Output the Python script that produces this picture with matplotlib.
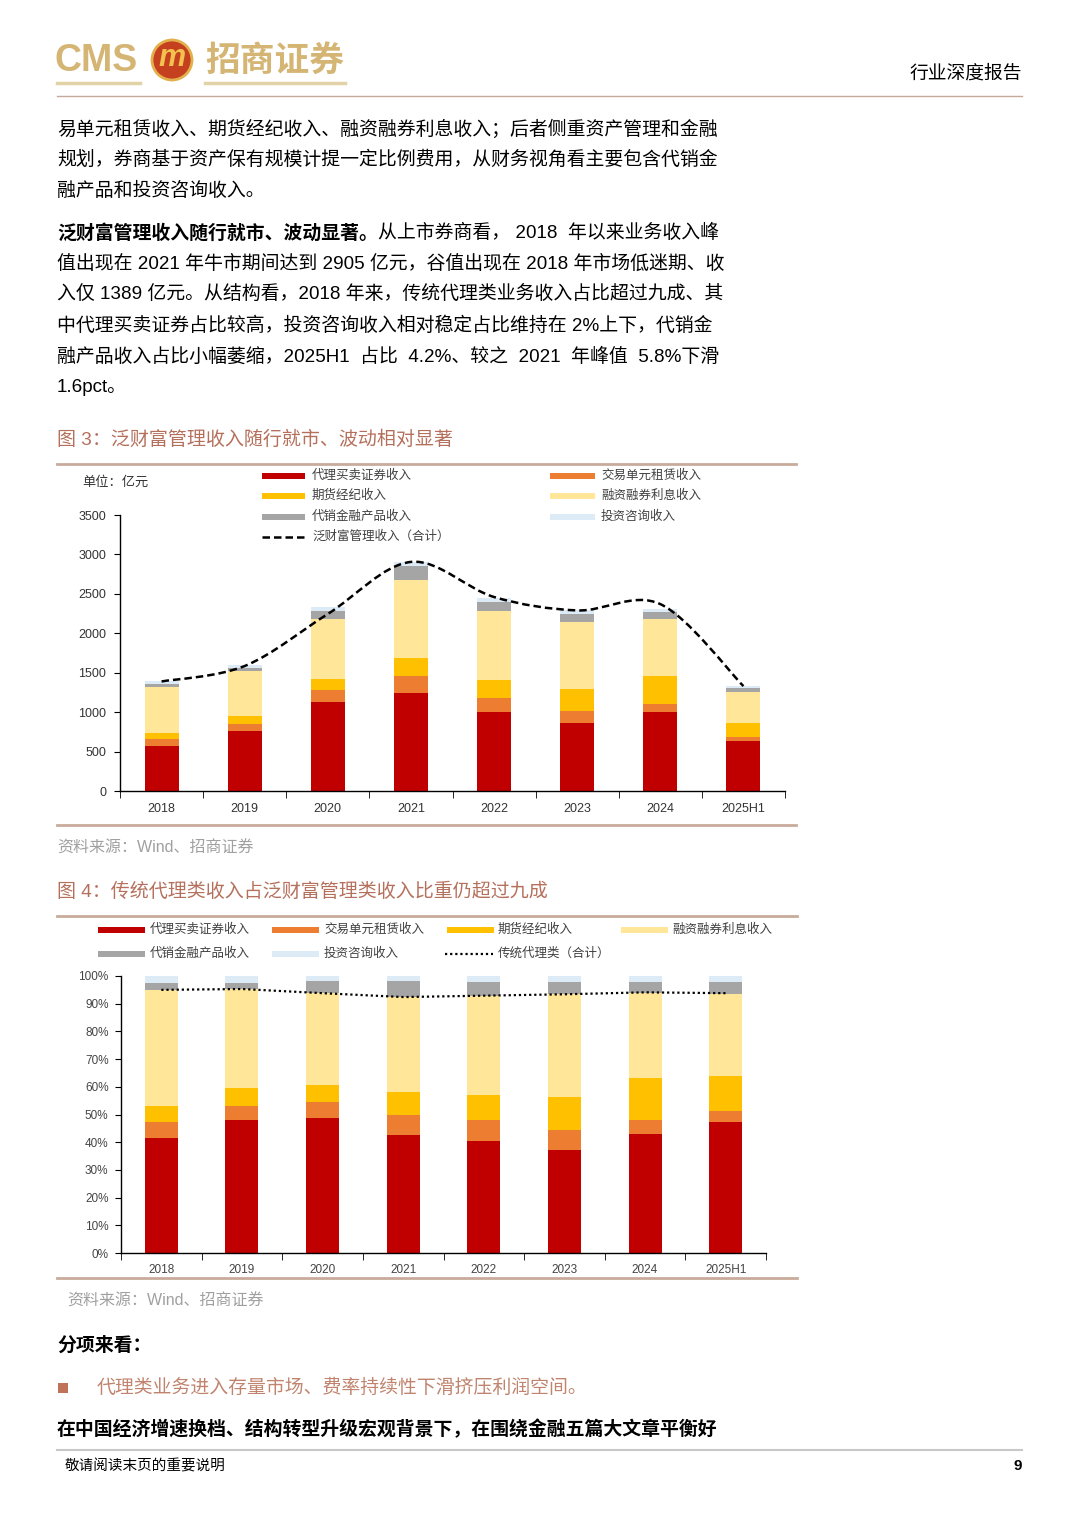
import numpy as np
import matplotlib
matplotlib.use('Agg')
import matplotlib.pyplot as plt
from matplotlib.path import Path
from matplotlib.patches import PathPatch, Rectangle, Circle
from matplotlib.ticker import FixedLocator

plt.rcParams['font.family'] = ['Liberation Sans', 'Noto Sans CJK SC', 'DejaVu Sans']

years = ['2018', '2019', '2020', '2021', '2022', '2023', '2024', '2025H1']

# 图3 泛财富管理收入 (亿元)
brokerage = [576, 767, 1131, 1237, 996, 860, 996, 631]
seat_rent = [80, 85, 144, 215, 186, 160, 112, 55]
futures = [80, 100, 150, 235, 228, 272, 348, 170]
margin = [583, 575, 762, 995, 870, 848, 722, 398]
product_sales = [37, 35, 100, 168, 120, 110, 90, 56]
advisory = [33, 35, 40, 55, 50, 45, 42, 25]
wealth_total = [1389, 1585, 2245, 2905, 2460, 2290, 2370, 1330]

# 图4 结构占比 (%)
brokerage_pct = [41.5, 48.0, 48.6, 42.6, 40.6, 37.3, 43.1, 47.3]
seat_rent_pct = [5.8, 5.2, 6.0, 7.3, 7.3, 7.1, 4.8, 4.0]
futures_pct = [5.6, 6.3, 6.1, 8.1, 9.2, 11.9, 15.1, 12.7]
margin_pct = [42.1, 35.8, 33.3, 34.4, 35.8, 37.1, 31.0, 29.6]
product_sales_pct = [2.5, 2.2, 4.2, 5.8, 4.9, 4.4, 3.8, 4.2]
advisory_pct = [2.5, 2.5, 1.8, 1.8, 2.2, 2.2, 2.2, 2.2]
agency_share = [95.0, 95.3, 93.8, 92.4, 92.9, 93.4, 94.1, 93.8]

names = ['代理买卖证券收入', '交易单元租赁收入', '期货经纪收入', '融资融券利息收入', '代销金融产品收入', '投资咨询收入']
colors = ['#C00000', '#ED7D31', '#FFC000', '#FFE699', '#A5A5A5', '#DDEBF7']

W, H = 1080, 1527
fig = plt.figure(figsize=(W / 100, H / 100), dpi=100)
bg = fig.add_axes([0, 0, 1, 1], zorder=0)
bg.set_xlim(0, W)
bg.set_ylim(H, 0)
bg.axis('off')

brown = '#B5705C'
tan_line = '#C9AB9B'
body = 13.6
leg_size = 9


def txt(x, y, s, size=body, color='black', weight='normal', ha='left', **kw):
    return bg.text(x, y, s, fontsize=size, color=color, fontweight=weight, ha=ha, va='center', **kw)


# ---- header
txt(55, 61, 'CMS', size=27, color='#D4B574', weight='bold')
bg.add_patch(Circle((172, 60), 20, facecolor='#C4401F', edgecolor='#E3B04B', lw=2))
txt(172, 58, 'm', size=22, color='#F2C14E', weight='bold', ha='center', style='italic')
txt(205, 61, '招商证券', size=25, color='#D4B574', weight='bold')
bg.plot([57, 140], [83, 83], color='#E2D2A8', lw=2.5)
bg.plot([205, 345], [83, 83], color='#E2D2A8', lw=2.5)
txt(1022, 74, '行业深度报告', size=13.5, ha='right')
bg.plot([57, 1022], [96, 96], color='#C4A89A', lw=1)

# ---- paragraphs
para1 = ['易单元租赁收入、期货经纪收入、融资融券利息收入；后者侧重资产管理和金融',
         '规划，券商基于资产保有规模计提一定比例费用，从财务视角看主要包含代销金',
         '融产品和投资咨询收入。']
for i, line in enumerate(para1):
    txt(57, 129 + 31 * i, line)

r = fig.canvas.get_renderer()
b = txt(57, 233, '泛财富管理收入随行就市、波动显著。', weight='bold')
bw = b.get_window_extent(renderer=r).width
txt(57 + bw, 233, '从上市券商看， 2018  年以来业务收入峰')
para2 = ['值出现在 2021 年牛市期间达到 2905 亿元，谷值出现在 2018 年市场低迷期、收',
         '入仅 1389 亿元。从结构看，2018 年来，传统代理类业务收入占比超过九成、其',
         '中代理买卖证券占比较高，投资咨询收入相对稳定占比维持在 2%上下，代销金',
         '融产品收入占比小幅萎缩，2025H1  占比  4.2%、较之  2021  年峰值  5.8%下滑',
         '1.6pct。']
for i, line in enumerate(para2):
    txt(57, 264 + 31 * i, line)

# ---- figure 3
txt(57, 440, '图 3：泛财富管理收入随行就市、波动相对显著', size=13.7, color=brown)
bg.plot([57, 796], [464, 464], color=tan_line, lw=2)
txt(82, 482, '单位：亿元', size=9.5, color='#333333')

leg_txt = '#404040'
col1 = [(0, 476), (2, 496), (4, 517)]
col2 = [(1, 476), (3, 496), (5, 517)]
for k, y in col1:
    bg.add_patch(Rectangle((262, y - 3), 43, 6, facecolor=colors[k], edgecolor='none'))
    txt(312, y, names[k], size=leg_size, color=leg_txt)
for k, y in col2:
    bg.add_patch(Rectangle((550, y - 3), 45, 6, facecolor=colors[k], edgecolor='none'))
    txt(601, y, names[k], size=leg_size, color=leg_txt)
bg.plot([262, 305], [537, 537], color='black', lw=1.8, ls=(0, (3, 1.6)))
txt(312, 537, '泛财富管理收入（合计）', size=leg_size, color=leg_txt)

ax1 = fig.add_axes([120 / W, 1 - 791 / H, (785 - 120) / W, (791 - 515) / H], zorder=2)
ax1.patch.set_alpha(0)
x = np.arange(len(years))
series1 = [brokerage, seat_rent, futures, margin, product_sales, advisory]
bottom = np.zeros(len(years))
for vals, c in zip(series1, colors):
    ax1.bar(x, vals, width=0.41, bottom=bottom, color=c, edgecolor='none')
    bottom += np.array(vals)

# smoothed total line (Bezier segments through the data points)
pts = np.column_stack([x, wealth_total]).astype(float)
verts = [pts[0]]
codes = [Path.MOVETO]
n = len(pts)
for i in range(n - 1):
    p0 = pts[i - 1] if i > 0 else pts[i]
    p3 = pts[i + 2] if i + 2 < n else pts[i + 1]
    c1 = pts[i] + (pts[i + 1] - p0) / 6
    c2 = pts[i + 1] - (p3 - pts[i]) / 6
    verts += [c1, c2, pts[i + 1]]
    codes += [Path.CURVE4] * 3
ax1.add_patch(PathPatch(Path(verts, codes), facecolor='none', edgecolor='black', lw=1.8,
                        ls=(0, (3, 1.6)), zorder=5))

ax1.set_xlim(-0.5, len(years) - 0.5)
ax1.set_ylim(0, 3500)
ax1.set_yticks(range(0, 3501, 500))
ax1.set_xticks(x)
ax1.set_xticklabels(years)
ax1.xaxis.set_minor_locator(FixedLocator(np.arange(-0.5, len(years), 1.0)))
ax1.tick_params(axis='x', which='major', length=0, pad=9, labelsize=9, labelcolor='#333333')
ax1.tick_params(axis='x', which='minor', length=5, direction='out', color='black')
ax1.tick_params(axis='y', length=4, direction='out', labelsize=9, labelcolor='#333333', pad=6)
for s in ['top', 'right']:
    ax1.spines[s].set_visible(False)
for s in ['left', 'bottom']:
    ax1.spines[s].set_color('black')
    ax1.spines[s].set_linewidth(1)

bg.plot([57, 796], [825, 825], color=tan_line, lw=2)
txt(57, 848, '资料来源：Wind、招商证券', size=11.5, color='#A0A0A0')

# ---- figure 4
txt(57, 892, '图 4：传统代理类收入占泛财富管理类收入比重仍超过九成', size=13.7, color=brown)
bg.plot([57, 797], [916, 916], color=tan_line, lw=2)

row1 = [(0, 98, 150), (1, 272, 324), (2, 447, 498), (3, 621, 672)]
for k, px, tx in row1:
    bg.add_patch(Rectangle((px, 927), 47, 6, facecolor=colors[k], edgecolor='none'))
    txt(tx, 930, names[k], size=leg_size, color=leg_txt)
for k, px, tx in [(4, 98, 150), (5, 272, 324)]:
    bg.add_patch(Rectangle((px, 951), 47, 6, facecolor=colors[k], edgecolor='none'))
    txt(tx, 954, names[k], size=leg_size, color=leg_txt)
bg.plot([445, 493], [954, 954], color='black', lw=1.6, ls=(0, (1, 1.3)))
txt(498, 954, '传统代理类（合计）', size=leg_size, color=leg_txt)

ax2 = fig.add_axes([121 / W, 1 - 1253 / H, (766 - 121) / W, (1253 - 976) / H], zorder=2)
ax2.patch.set_alpha(0)
series2 = [brokerage_pct, seat_rent_pct, futures_pct, margin_pct, product_sales_pct, advisory_pct]
bottom = np.zeros(len(years))
for vals, c in zip(series2, colors):
    ax2.bar(x, vals, width=0.41, bottom=bottom, color=c, edgecolor='none')
    bottom += np.array(vals)
ax2.plot(x, agency_share, color='black', lw=1.6, ls=(0, (1, 1.3)), zorder=5)
ax2.set_xlim(-0.5, len(years) - 0.5)
ax2.set_ylim(0, 100)
ax2.set_yticks(range(0, 101, 10))
ax2.set_yticklabels([f'{v}%' for v in range(0, 101, 10)])
ax2.set_xticks(x)
ax2.set_xticklabels(years)
ax2.xaxis.set_minor_locator(FixedLocator(np.arange(-0.5, len(years), 1.0)))
ax2.tick_params(axis='x', which='major', length=0, pad=8, labelsize=8.5, labelcolor='#444444')
ax2.tick_params(axis='x', which='minor', length=5, direction='out', color='black')
ax2.tick_params(axis='y', length=4, direction='out', labelsize=8.5, labelcolor='#444444', pad=5)
for s in ['top', 'right']:
    ax2.spines[s].set_visible(False)
for s in ['left', 'bottom']:
    ax2.spines[s].set_color('black')
    ax2.spines[s].set_linewidth(1)

bg.plot([57, 797], [1278, 1278], color=tan_line, lw=2)
txt(67, 1301, '资料来源：Wind、招商证券', size=11.5, color='#A0A0A0')

# ---- text below charts
txt(57, 1346, '分项来看：', weight='bold')
bg.add_patch(Rectangle((58, 1383), 10, 10, facecolor='#C0735A', edgecolor='none'))
txt(97, 1388, '代理类业务进入存量市场、费率持续性下滑挤压利润空间。', color='#C0846E')
txt(57, 1429, '在中国经济增速换档、结构转型升级宏观背景下，在围绕金融五篇大文章平衡好', weight='bold')

# ---- footer
bg.plot([57, 1022], [1450, 1450], color='#C8C8C8', lw=1.5)
txt(65, 1466, '敬请阅读末页的重要说明', size=10.5)
txt(1022, 1466, '9', size=11, weight='bold', ha='right')

fig.savefig('out.png', dpi=100)
